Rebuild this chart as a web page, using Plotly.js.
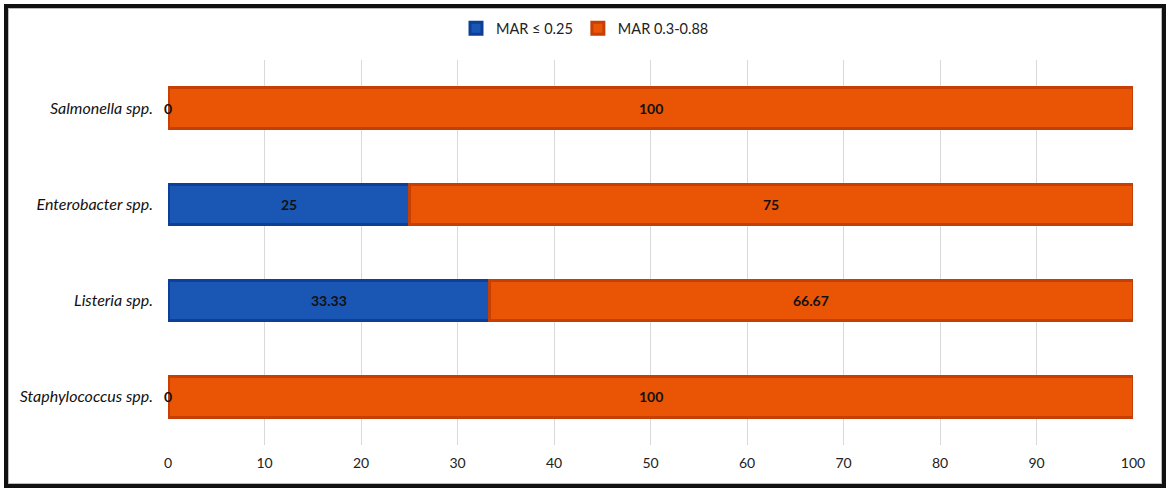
<!DOCTYPE html>
<html>
<head>
<meta charset="utf-8">
<script src="https://cdn.plot.ly/plotly-3.0.1.min.js"></script>
<style>
  html, body { margin: 0; padding: 0; background: #fff; }
  #frame { position: absolute; left: 4px; top: 4px; width: 1154px; height: 476px; border: 4px solid #111; box-shadow: inset 0 0 0 1px #bbb; }
  #chart { position: absolute; left: 0; top: 0; width: 1170px; height: 494px; }
</style>
</head>
<body>
<div id="chart"></div>
<div id="frame"></div>
<script>
const categories = ["Staphylococcus spp.", "Listeria spp.", "Enterobacter spp.", "Salmonella spp."];
const marLow = [0, 33.33, 25, 0];
const marHigh = [100, 66.67, 75, 100];
const seriesNames = ["MAR \u2264 0.25", "MAR 0.3-0.88"];
const xTicks = [0, 10, 20, 30, 40, 50, 60, 70, 80, 90, 100];

const blue = "#1A56B4", blueLine = "#0E3F97";
const orange = "#EA5505", orangeLine = "#C63F05";
const FONT = "Lato, 'Open Sans', sans-serif";

const traces = [
  { type: "bar", orientation: "h", name: seriesNames[0], y: categories, x: marLow,
    marker: { color: blue, line: { color: blueLine, width: 3 } }, hoverinfo: "x+y" },
  { type: "bar", orientation: "h", name: seriesNames[1], y: categories, x: marHigh,
    marker: { color: orange, line: { color: orangeLine, width: 3 } }, hoverinfo: "x+y" }
];

const annotations = [];
const labelFont = { family: FONT, size: 14, color: "#111", weight: "bold" };
categories.forEach((c, i) => {
  annotations.push({ x: marLow[i] / 2, y: c, xref: "x", yref: "y", text: String(marLow[i]),
    showarrow: false, font: labelFont });
  annotations.push({ x: marLow[i] + marHigh[i] / 2, y: c, xref: "x", yref: "y", text: String(marHigh[i]),
    showarrow: false, font: labelFont });
});

const layout = {
  width: 1170, height: 494,
  margin: { l: 168, r: 37, t: 60, b: 49, pad: 0 },
  paper_bgcolor: "#fff", plot_bgcolor: "#fff",
  barmode: "stack", bargap: 0.58,
  font: { family: FONT, size: 14, color: "#222" },
  xaxis: { range: [0, 100], tickvals: xTicks, ticktext: xTicks.map(String), showgrid: true, gridcolor: "#d9d9d9", gridwidth: 1,
           zeroline: false, showline: false, ticks: "", ticklabelstandoff: 8, fixedrange: true,
           tickfont: { family: FONT, size: 14, color: "#222" } },
  yaxis: { categoryorder: "array", categoryarray: categories, showgrid: false, zeroline: false, showline: false,
           ticks: "", ticklabelstandoff: 14, fixedrange: true,
           tickfont: { family: FONT, size: 16, color: "#111", style: "italic" } },
  legend: { orientation: "h", x: 0.5, xanchor: "center", xref: "container", y: 0.975, yref: "container", yanchor: "top",
            traceorder: "normal", font: { family: FONT, size: 14.5, color: "#222" }, itemwidth: 30 },
  annotations: annotations,
  showlegend: true
};

Plotly.newPlot("chart", traces, layout, { displayModeBar: false, staticPlot: true });
</script>
</body>
</html>
